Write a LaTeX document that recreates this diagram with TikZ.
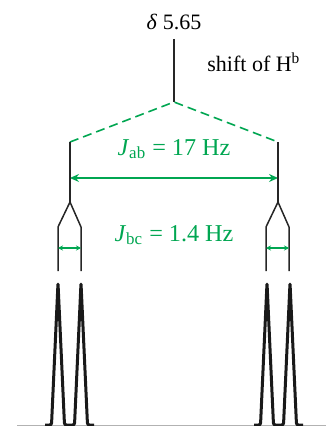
\documentclass[tikz,border=0pt]{standalone}
\usepackage{fontspec}
\setmainfont{Liberation Serif}
\usetikzlibrary{arrows.meta}
\definecolor{nmrgreen}{RGB}{0,166,81}
\begin{document}
\begin{tikzpicture}[x=0.5pt,y=-0.5pt,
  txt/.style={font=\fontsize{11}{13}\selectfont,inner sep=0pt},
  jtxt/.style={font=\fontsize{12.1}{14}\selectfont,inner sep=0pt,text=nmrgreen},
  split/.style={black!85,line width=0.75pt},
  coupling/.style={nmrgreen,line width=0.8pt},
  peak/.style={black!90,line width=1.5pt,line join=round,rounded corners=1pt}]
  \useasboundingbox (0,0) rectangle (326,426);
  % Chemical shift of Hb
  \node[txt] (delta) at (174,22) {\textit{δ} 5.65};
  \node[txt,anchor=west] (hb) at (207,62) {shift of H\textsuperscript{b}};
  \coordinate (top) at (174,39);
  \coordinate (c) at (174,102);
  \draw[split] (top) -- (c);
  % First splitting, J_ab
  \coordinate (a1) at (70,142);
  \coordinate (a2) at (278,142);
  \draw[coupling,dash pattern=on 4.5pt off 2.5pt] (a1) -- (c) -- (a2);
  \node[jtxt] (jab) at (174,149) {\textit{J}\textsubscript{ab} = 17 Hz};
  \coordinate (ja1) at (70,178);
  \coordinate (ja2) at (278,178);
  \draw[coupling,{Stealth[length=4.5pt,width=4pt,inset=1.5pt]}-{Stealth[length=4.5pt,width=4pt,inset=1.5pt]}] (ja1) -- (ja2);
  % Second splitting, J_bc
  \foreach \n/\x/\a in {l/70/a1,r/278/a2} {
    \coordinate (f\n) at (\x,202);
    \coordinate (p\n1) at (\x-12,227);
    \coordinate (p\n2) at (\x+11,227);
    \coordinate (q\n1) at (\x-12,271);
    \coordinate (q\n2) at (\x+11,271);
    \draw[split] (\a) -- (f\n);
    \draw[split] (q\n1) -- (p\n1) -- (f\n) -- (p\n2) -- (q\n2);
    \coordinate (jb\n1) at (\x-12,248);
    \coordinate (jb\n2) at (\x+11,248);
    \draw[coupling,{Stealth[length=2.5pt,width=2.5pt,inset=0.8pt]}-{Stealth[length=2.5pt,width=2.5pt,inset=0.8pt]}] (jb\n1) -- (jb\n2);
  }
  \node[jtxt] (jbc) at (174,235) {\textit{J}\textsubscript{bc} = 1.4 Hz};
  % Spectrum
  \coordinate (base-l) at (17,425);
  \coordinate (base-r) at (326,425);
  \draw[gray!60,line width=0.5pt] (base-l) -- (base-r);
  \foreach \m in {58,267} {
    \draw[peak] (\m-13,425) -- (\m-6.5,425) -- (\m,283) -- (\m+6.5,425)
      -- (\m+16.5,425) -- (\m+23,283) -- (\m+29.5,425) -- (\m+36,425);
  }
\end{tikzpicture}
\end{document}
